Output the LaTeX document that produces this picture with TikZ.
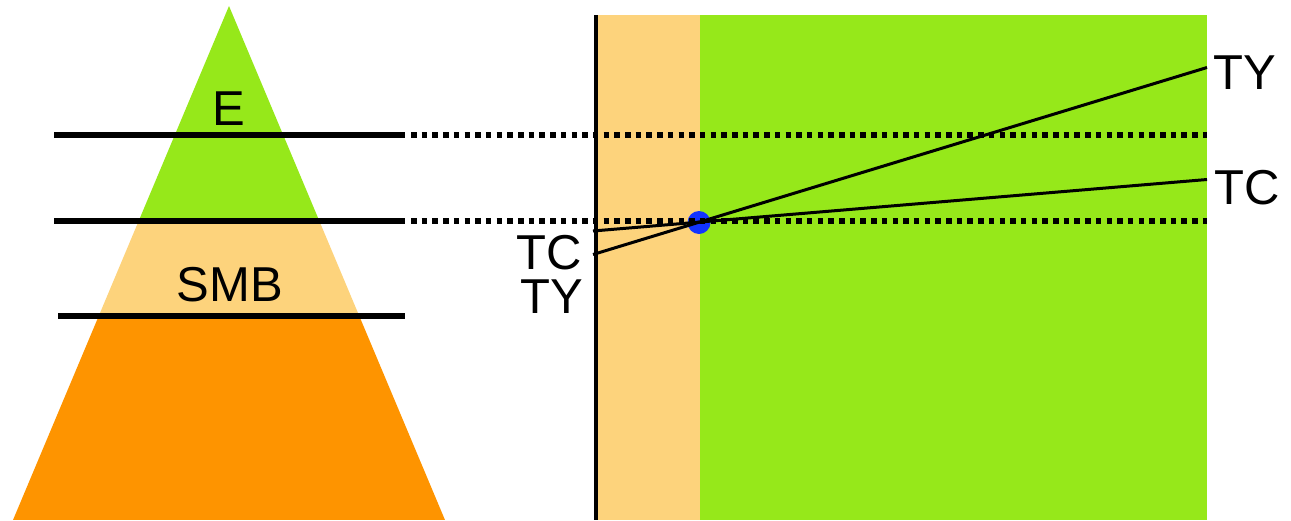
\documentclass[tikz,border=0pt]{standalone}
\usepackage{fontspec}
\setmainfont{Liberation Sans}
\definecolor{egreen}{RGB}{150,232,26}
\definecolor{smblight}{RGB}{253,211,124}
\definecolor{baseorange}{RGB}{254,148,0}
\definecolor{ptblue}{RGB}{18,52,255}

\begin{document}
\begin{tikzpicture}[
            x=1pt, y=-1pt,
            lbl/.style={font=\fontsize{49}{58}\selectfont, inner sep=0pt},
            lvl/.style={line width=5.5pt},
            dots/.style={line width=5.5pt, dash pattern=on 5.5pt off 5.2pt},
            ax/.style={line width=3.5pt},
            slope/.style={line width=3pt},
            pt/.style={circle, fill=ptblue, minimum size=23pt, inner sep=0pt}
        ]

        \useasboundingbox (0,0) rectangle (1291,520);

        % pyramid
        \coordinate (apex) at (229,6);
        \coordinate (bl) at (13,520);
        \coordinate (br) at (445,520);
        \begin{scope}
            \clip (apex) -- (bl) -- (br) -- cycle;
            \fill[egreen] (0,0) rectangle (460,221);
            \fill[smblight] (0,221) rectangle (460,315);
            \fill[baseorange] (0,315) rectangle (460,520);
        \end{scope}
        \node[lbl] (e) at (229,109) {E};
        \node[lbl] (smb) at (230,285) {SMB};

        % chart
        \fill[smblight] (596,15) rectangle (700,520);
        \fill[egreen] (700,15) rectangle (1207,520);
        \coordinate (top) at (596,15);
        \coordinate (bot) at (596,520);
        \draw[ax] (top) -- (bot);

        \node[pt] (p) at (699,222.5) {};

        \coordinate (tcl) at (593,231);
        \coordinate (tyl) at (593,254.5);
        \coordinate (tcr) at (1207,179.5);
        \coordinate (tyr) at (1207,67.5);
        \draw[slope] (tcl) -- (tcr);
        \draw[slope] (tyl) -- (tyr);

        \node[lbl] (tcL) at (549,252.5) {TC};
        \node[lbl] (tyL) at (552,297) {TY};
        \node[lbl] (tyR) at (1245,72.5) {TY};
        \node[lbl] (tcR) at (1247.5,187.5) {TC};

        % levels
        \coordinate (l1a) at (54,135);
        \coordinate (l1b) at (405,135);
        \coordinate (l1c) at (1207,135);
        \coordinate (l2a) at (54,221);
        \coordinate (l2b) at (405,221);
        \coordinate (l2c) at (1207,221);
        \coordinate (l3a) at (58,316);
        \coordinate (l3b) at (405,316);
        \draw[lvl] (l1a) -- (l1b);
        \draw[lvl] (l2a) -- (l2b);
        \draw[lvl] (l3a) -- (l3b);
        \draw[dots] ([xshift=6pt]l1b) -- (l1c);
        \draw[dots] ([xshift=6pt]l2b) -- (l2c);

\end{tikzpicture}
\end{document}
